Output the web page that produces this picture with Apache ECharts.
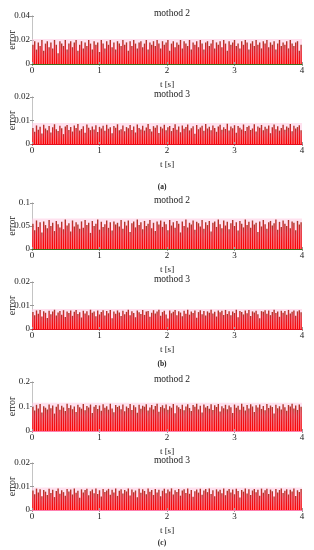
<!DOCTYPE html>
<html><head><meta charset="utf-8">
<script src="https://cdn.jsdelivr.net/npm/echarts@6/dist/echarts.min.js"></script>
<style>html,body{margin:0;padding:0;background:#fff}#c{width:314px;height:550px}</style>
</head><body><div id="c"></div>
<script>
// x tick labels (time, s)
const xTicks = [0, 1, 2, 3, 4];
// panel titles and captions
const panelTitles = ['mothod 2', 'mothod 3', 'mothod 2', 'mothod 3', 'mothod 2', 'mothod 3'];
const captions = ['(a)', '(b)', '(c)'];
// y-axis ranges per panel [max, interval]
const yMax = [0.04, 0.02, 0.1, 0.02, 0.2, 0.02];
const yStep = [0.02, 0.01, 0.05, 0.01, 0.1, 0.01];

// error values (dense stems over 0..4 s)
const errA2 = [.016,.019,.012,.018,.015,.02,.011,.017,.019,.014,
.018,.013,.02,.016,.009,.019,.017,.015,.02,.012,
.017,.019,.014,.018,.02,.011,.016,.019,.013,.018,
.015,.02,.017,.012,.019,.016,.018,.01,.02,.017,
.013,.019,.016,.02,.014,.018,.012,.019,.017,.015,
.02,.016,.018,.011,.019,.015,.02,.017,.013,.018,
.019,.014,.017,.02,.012,.018,.016,.019,.015,.02,
.017,.013,.019,.016,.018,.02,.011,.017,.019,.014,
.018,.016,.02,.013,.019,.017,.015,.02,.012,.018,
.016,.019,.014,.02,.017,.012,.018,.019,.015,.017,
.02,.013,.018,.016,.019,.014,.02,.017,.011,.019,
.016,.018,.02,.015,.017,.013,.019,.016,.02,.018,
.012,.017,.019,.015,.02,.016,.018,.013,.019,.017,
.02,.014,.018,.016,.019,.012,.017,.02,.015,.018,
.016,.019,.013,.02,.017,.015,.018,.019,.011,.016];
const errA3 = [.0068,.0052,.0079,.0061,.0073,.0045,.0082,.0066,.0058,.0077,
.0049,.0071,.0084,.0063,.0055,.0078,.0067,.0042,.0075,.0081,
.006,.0072,.0053,.0079,.0068,.0085,.0057,.0064,.0076,.0048,
.0083,.0069,.0059,.0074,.0062,.008,.0051,.0073,.0066,.0078,
.0056,.0082,.0065,.0071,.0046,.0077,.0069,.0084,.0058,.0063,
.0079,.0054,.0072,.0067,.0081,.006,.0075,.0049,.0083,.0068,
.0062,.0078,.0057,.007,.0085,.0064,.0053,.0076,.0069,.008,
.0047,.0073,.0066,.0082,.0059,.0071,.0077,.0055,.0068,.0084,
.0061,.0074,.005,.0079,.0065,.0072,.0083,.0058,.0067,.0076,
.0044,.0081,.0063,.007,.0078,.0056,.0085,.0066,.0073,.0059,
.0079,.0068,.0052,.0075,.0082,.0061,.0071,.0064,.0086,.0057,
.0074,.0067,.008,.0048,.0077,.0069,.0062,.0083,.0055,.0072,
.0078,.006,.0066,.0084,.0053,.0075,.0069,.0081,.0058,.0073,
.0065,.0079,.0046,.0071,.0083,.0063,.0076,.0057,.0068,.0082,
.0061,.0074,.0069,.0085,.0054,.0078,.0066,.0072,.008,.0059];
const errB2 = [.055,.041,.062,.048,.058,.036,.06,.052,.045,.063,
.05,.057,.039,.061,.054,.047,.059,.043,.064,.051,
.056,.038,.062,.049,.058,.053,.044,.06,.046,.063,
.052,.057,.035,.061,.05,.055,.064,.042,.059,.048,
.054,.062,.046,.058,.04,.06,.053,.057,.049,.063,
.044,.059,.051,.062,.037,.056,.06,.047,.064,.052,
.058,.043,.061,.05,.055,.063,.045,.057,.039,.06,
.053,.062,.048,.059,.054,.041,.063,.051,.058,.046,
.061,.055,.036,.06,.05,.064,.047,.057,.053,.062,
.042,.059,.056,.049,.063,.044,.058,.052,.061,.038,
.057,.06,.048,.064,.054,.045,.062,.051,.059,.043,
.056,.063,.05,.058,.04,.061,.055,.047,.064,.052,
.059,.046,.062,.053,.057,.037,.06,.049,.063,.054,
.044,.058,.061,.051,.056,.064,.042,.059,.048,.062,
.055,.05,.063,.045,.06,.057,.041,.061,.053,.058];
const errB3 = [.0072,.0058,.0079,.0065,.0081,.0053,.0076,.0069,.0047,.0078,
.0063,.0074,.0082,.0057,.007,.0077,.0061,.008,.0051,.0075,
.0068,.0079,.0056,.0073,.0081,.0064,.0071,.0049,.0078,.0066,
.0076,.0059,.0082,.0069,.0074,.0054,.0079,.0062,.0072,.008,
.0057,.0077,.0067,.0081,.0046,.0075,.0065,.0079,.007,.0055,
.0078,.0063,.0073,.0082,.0058,.0076,.0068,.005,.0079,.0071,
.0064,.0081,.006,.0074,.0077,.0052,.0069,.008,.0066,.0075,
.0082,.0056,.0072,.0078,.0062,.0045,.0079,.0067,.0073,.0081,
.0059,.0076,.007,.0054,.0078,.0065,.0082,.0061,.0074,.0068,
.0079,.0048,.0072,.008,.0063,.0077,.0057,.0075,.0069,.0082,
.0066,.0073,.0053,.0079,.0071,.0078,.006,.0081,.0064,.0076,
.0058,.0074,.0068,.0082,.005,.0077,.0072,.0062,.0079,.0067,
.0081,.0055,.0075,.007,.0078,.0063,.0046,.0076,.0073,.008,
.0065,.0079,.0059,.0072,.0082,.0068,.0074,.0052,.0078,.0069,
.0077,.0061,.0081,.0066,.0073,.0079,.0056,.0075,.008,.0071];
const errC2 = [.098,.084,.107,.092,.11,.076,.101,.095,.088,.108,
.093,.104,.071,.099,.109,.087,.103,.096,.082,.111,
.094,.105,.089,.1,.078,.107,.097,.091,.11,.085,
.102,.096,.108,.073,.099,.106,.09,.104,.083,.109,
.095,.101,.087,.111,.092,.077,.106,.098,.103,.089,
.108,.081,.1,.094,.11,.086,.105,.097,.074,.107,
.091,.103,.099,.109,.084,.096,.106,.088,.102,.111,
.079,.098,.105,.093,.108,.087,.101,.095,.11,.072,
.104,.097,.09,.107,.085,.1,.109,.094,.082,.106,
.099,.111,.088,.103,.076,.108,.096,.102,.091,.109,
.086,.105,.098,.11,.08,.101,.093,.107,.089,.104,
.097,.073,.108,.095,.103,.087,.111,.099,.084,.106,
.092,.109,.1,.078,.105,.096,.108,.09,.102,.085,
.11,.094,.104,.098,.071,.107,.093,.101,.088,.109,
.097,.083,.106,.1,.111,.092,.104,.086,.108,.099];
const errC3 = [.0083,.0067,.0091,.0074,.0088,.0059,.0085,.0078,.0064,.009,
.0072,.0086,.0055,.0081,.0092,.0069,.0084,.0076,.0061,.0089,
.0079,.0087,.0066,.0091,.0073,.0082,.0052,.0088,.0075,.0085,
.009,.0063,.008,.0087,.0071,.0092,.0068,.0084,.0057,.0089,
.0077,.0083,.009,.0065,.0086,.0074,.0091,.006,.0082,.0088,
.007,.0085,.0079,.0092,.0062,.0087,.0076,.0083,.0054,.009,
.0073,.0088,.0081,.0067,.0091,.0078,.0085,.0064,.0089,.0075,
.0086,.0058,.0082,.009,.0071,.0087,.0079,.0092,.0066,.0084,
.0077,.0089,.0061,.0083,.0088,.0072,.0091,.0069,.0085,.0056,
.008,.0087,.0074,.009,.0065,.0083,.0089,.0076,.0092,.0068,
.0084,.0059,.0088,.0079,.0086,.0071,.0091,.0063,.0082,.0089,
.0075,.0087,.0067,.009,.0081,.0053,.0085,.0078,.0092,.007,
.0088,.0064,.0083,.0089,.0076,.0086,.0061,.0091,.0073,.0084,
.009,.0068,.0087,.008,.0057,.0089,.0075,.0085,.0092,.0072,
.0082,.0088,.0066,.0086,.0079,.0091,.006,.0084,.0077,.0089];
const seriesData = [errA2, errA3, errB2, errB3, errC2, errC3];

// layout (pixels)
const gridTops = [16, 97, 203, 282, 382, 463];
const gridHeights = [48, 47, 46, 47, 49, 47];
const captionTops = [178, 355, 534];
const baseColors = ['#3f6e1c', '#e01020', '#3f6e1c', '#e01020', '#ff80b0', '#ff80b0'];

const FONT = 'Liberation Serif';
const frame = '#c4c4c4';
const barFill = new echarts.graphic.LinearGradient(0, 0, 0, 1, [
  {offset: 0, color: '#a8382a'},
  {offset: 0.3, color: '#e0202a'},
  {offset: 1, color: '#ff0000'}
]);
const grids = [], xAxes = [], yAxes = [], series = [], titles = [];
for (let i = 0; i < 6; i++) {
  grids.push({left: 32, right: 12, top: gridTops[i], height: gridHeights[i], containLabel: false, outerBoundsMode: 'none'});
  // hidden category axis carrying the samples
  xAxes.push({type: 'category', gridIndex: i, show: false, position: 'bottom', boundaryGap: true});
  // visible time axis
  xAxes.push({type: 'value', gridIndex: i, position: 'bottom', min: xTicks[0], max: xTicks[xTicks.length - 1], interval: 1,
    name: 't [s]', nameLocation: 'middle', nameGap: 16, nameMoveOverlap: false,
    nameTextStyle: {fontFamily: FONT, fontSize: 9, color: '#222'},
    axisLine: {show: true, onZero: false, lineStyle: {color: baseColors[i], width: 1}},
    axisTick: {show: true, inside: true, length: 2, lineStyle: {color: '#999'}},
    axisLabel: {fontFamily: FONT, fontSize: 9, color: '#222', margin: 2},
    splitLine: {show: false}, z: 5});
  // top frame
  xAxes.push({type: 'value', gridIndex: i, position: 'top', min: 0, max: 4, interval: 1,
    axisLine: {show: true, lineStyle: {color: frame, width: 1}},
    axisTick: {show: true, inside: true, length: 2, lineStyle: {color: '#999'}},
    axisLabel: {show: false}, splitLine: {show: false}});
  yAxes.push({type: 'value', gridIndex: i, position: 'left', min: 0, max: yMax[i], interval: yStep[i],
    name: 'error', nameLocation: 'middle', nameGap: 15, nameMoveOverlap: false,
    nameTextStyle: {fontFamily: FONT, fontSize: 10, color: '#222'},
    axisLine: {show: true, lineStyle: {color: frame, width: 1}},
    axisTick: {show: true, inside: true, length: 2, lineStyle: {color: '#999'}},
    axisLabel: {fontFamily: FONT, fontSize: 9, color: '#222', margin: 2},
    splitLine: {show: false}});
  yAxes.push({type: 'value', gridIndex: i, position: 'right', min: 0, max: yMax[i], interval: yStep[i],
    axisLine: {show: true, lineStyle: {color: frame, width: 1}},
    axisTick: {show: true, inside: true, length: 2, lineStyle: {color: '#999'}},
    axisLabel: {show: false}, splitLine: {show: false}});
  const top = Math.max.apply(null, seriesData[i]) * 1.04;
  series.push({type: 'bar', xAxisIndex: i * 3, yAxisIndex: i * 2, data: seriesData[i],
    barWidth: 1.4, itemStyle: {color: barFill}, silent: true, animation: false,
    markArea: {silent: true, itemStyle: {color: 'rgba(255,200,225,0.55)'},
      data: [[{yAxis: 0}, {yAxis: top}]]}});
  titles.push({text: panelTitles[i], left: 167, textAlign: 'center', top: gridTops[i] - 13,
    textStyle: {fontFamily: FONT, fontSize: 9.5, fontWeight: 'normal', color: '#222'}});
}
for (let k = 0; k < 3; k++) {
  titles.push({text: captions[k], left: 157, textAlign: 'center', top: captionTops[k],
    textStyle: {fontFamily: FONT, fontSize: 7.5, fontWeight: 'bold', color: '#222'}});
}
const chart = echarts.init(document.getElementById('c'), null, {renderer: 'canvas'});
chart.setOption({animation: false, title: titles, grid: grids, xAxis: xAxes, yAxis: yAxes, series: series});
</script></body></html>
